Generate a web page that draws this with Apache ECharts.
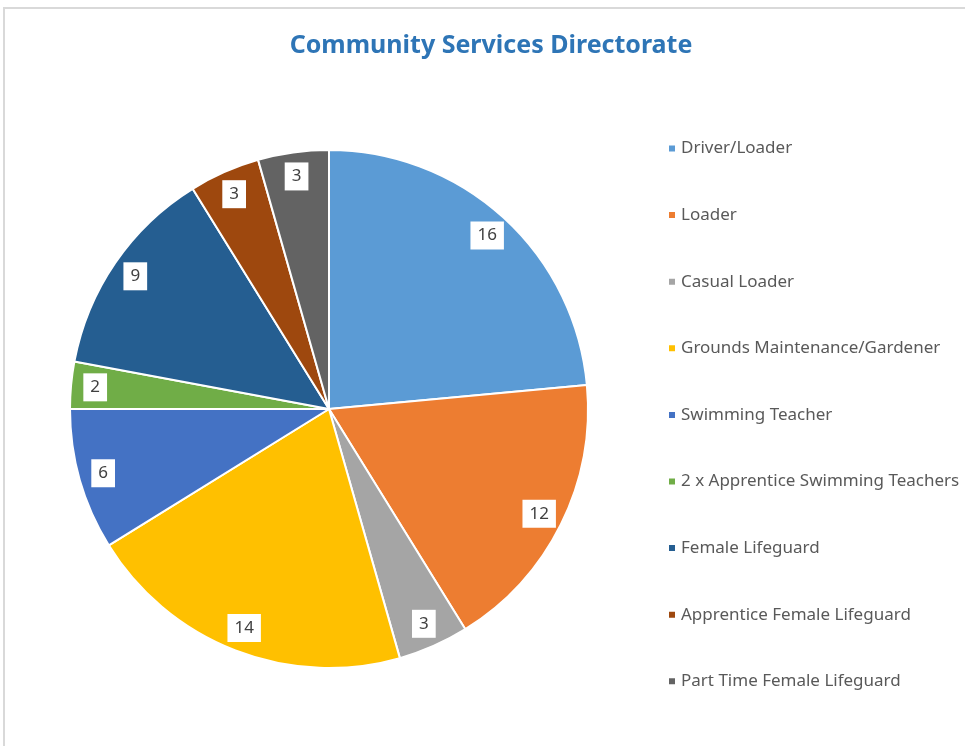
<!DOCTYPE html>
<html><head><meta charset="utf-8">
<script src="https://cdn.jsdelivr.net/npm/echarts@6/dist/echarts.min.js"></script>
<style>html,body{margin:0;padding:0;background:#fff}#c{width:965px;height:746px}</style>
</head><body><div id="c"></div>
<script>
const categories = ['Driver/Loader','Loader','Casual Loader','Grounds Maintenance/Gardener','Swimming Teacher','2 x Apprentice Swimming Teachers','Female Lifeguard','Apprentice Female Lifeguard','Part Time Female Lifeguard'];
const values = [16,12,3,14,6,2,9,3,3];
const colors = ['#5B9BD5','#ED7D31','#A5A5A5','#FFC000','#4472C4','#70AD47','#255E91','#9E480E','#636363'];

const chart = echarts.init(document.getElementById('c'));
const data = categories.map((n,i)=>({name:n,value:values[i],itemStyle:{color:colors[i]}}));
const R = 259;
chart.setOption({
  animation:false,
  color: colors,
  title:{text:'Community Services Directorate',left:486,top:28,textAlign:'center',
    textStyle:{color:'#2E75B6',fontSize:25,fontWeight:'bold',fontFamily:'Noto Sans'}},
  graphic:[{type:'rect',shape:{x:4,y:8,width:1000,height:800},style:{fill:'none',stroke:'#d9d9d9',lineWidth:2},silent:true}],
  legend:{orient:'vertical',left:662,top:135,itemWidth:8,itemHeight:8,itemGap:49.6,icon:'rect',
    textStyle:{color:'#595959',fontSize:17,fontFamily:'Noto Sans',lineHeight:17},data:categories},
  series:[
    {type:'pie',center:[329,409],radius:[0,R],startAngle:90,clockwise:true,
     itemStyle:{borderColor:'#fff',borderWidth:2},label:{show:false},labelLine:{show:false},
     emphasis:{disabled:true},data:data},
    {type:'pie',center:[329,409],radius:[R*0.79,R],startAngle:90,clockwise:true,silent:true,
     itemStyle:{color:'rgba(0,0,0,0)'},labelLine:{show:false},emphasis:{disabled:true},
     label:{show:true,position:'inside',formatter:'{c}',backgroundColor:'#fff',color:'#404040',
       fontSize:17,fontFamily:'Noto Sans',padding:[6,7,5,7]},
     data:categories.map((n,i)=>({name:n,value:values[i]})),legendHoverLink:false}
  ]
});
</script></body></html>
